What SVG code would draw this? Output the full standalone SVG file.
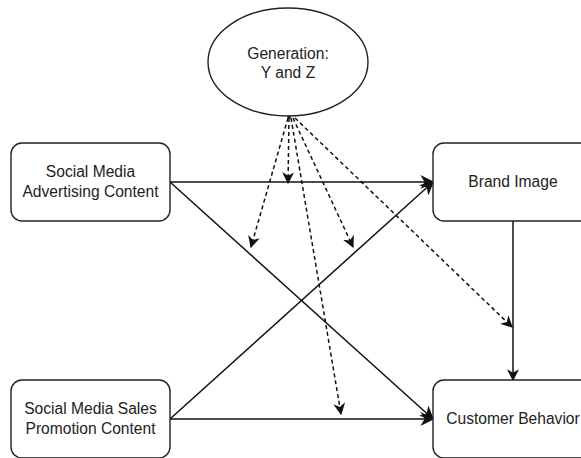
<svg xmlns="http://www.w3.org/2000/svg" width="581" height="458" viewBox="0 0 581 458">
<defs>
<marker id="arr" viewBox="0 0 10 10" refX="9" refY="5" markerWidth="12" markerHeight="12" markerUnits="userSpaceOnUse" orient="auto">
<path d="M0,0 L10,5 L0,10 L3,5 z" fill="#111"/>
</marker>
<marker id="arrBig" viewBox="0 0 10 10" refX="9" refY="5" markerWidth="14" markerHeight="14" markerUnits="userSpaceOnUse" orient="auto">
<path d="M0,0 L10,5 L0,10 L3,5 z" fill="#111"/>
</marker>
</defs>
<style>
.box{fill:#fff;stroke:#222;stroke-width:1.4}
.t{font-family:"Liberation Sans",Arial,sans-serif;font-size:15.6px;fill:#222;text-anchor:middle}
.s{fill:none;stroke:#111;stroke-width:1.5}
.d{fill:none;stroke:#111;stroke-width:1.5;stroke-dasharray:4 3}
</style>
<rect width="581" height="458" fill="#fff"/>
<g id="connectors">
<line class="s" x1="170" y1="182" x2="433" y2="182" marker-end="url(#arrBig)"/>
<line class="s" x1="170" y1="182" x2="433" y2="419" marker-end="url(#arrBig)"/>
<line class="s" x1="170" y1="419" x2="433" y2="182" marker-end="url(#arrBig)"/>
<line class="s" x1="170" y1="419" x2="433" y2="419" marker-end="url(#arrBig)"/>
<line class="s" x1="513" y1="221" x2="513" y2="380" marker-end="url(#arr)"/>
<line class="d" x1="288" y1="118" x2="251" y2="247" marker-end="url(#arr)"/>
<line class="d" x1="289" y1="118" x2="288" y2="183" marker-end="url(#arr)"/>
<line class="d" x1="291" y1="118" x2="341" y2="414" marker-end="url(#arr)"/>
<line class="d" x1="293" y1="118" x2="353" y2="247" marker-end="url(#arr)"/>
<line class="d" x1="295" y1="118" x2="512" y2="327" marker-end="url(#arr)"/>
<circle cx="289" cy="117" r="1.8" fill="#111"/>
</g>
<g id="generation">
<ellipse class="box" cx="288" cy="62" rx="80" ry="54"/>
<text class="t" x="288" y="59">Generation:</text>
<text class="t" x="288" y="78">Y and Z</text>
</g>
<g id="sm-advertising">
<rect class="box" x="11" y="143" width="159" height="78" rx="11"/>
<text class="t" x="90.5" y="177">Social Media</text>
<text class="t" x="90.5" y="197">Advertising Content</text>
</g>
<g id="sm-sales">
<rect class="box" x="11" y="380" width="159" height="78" rx="11"/>
<text class="t" x="90.5" y="414">Social Media Sales</text>
<text class="t" x="90.5" y="434">Promotion Content</text>
</g>
<g id="brand-image">
<rect class="box" x="433" y="143" width="160" height="78" rx="11"/>
<text class="t" x="513" y="187">Brand Image</text>
</g>
<g id="customer-behavior">
<rect class="box" x="433" y="380" width="160" height="78" rx="11"/>
<text class="t" x="513" y="424">Customer Behavior</text>
</g>
</svg>
